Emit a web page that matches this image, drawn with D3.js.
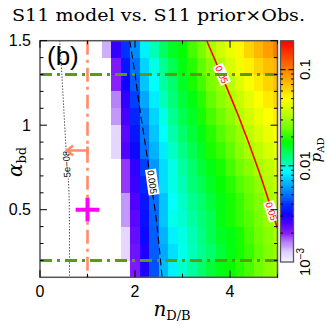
<!DOCTYPE html>
<html><head><meta charset="utf-8">
<script src="https://cdn.jsdelivr.net/npm/d3@7"></script>
<style>body{margin:0;background:#fff}svg{display:block}</style>
</head><body>
<script>
// ---------- data ----------
const titleText = "S11 model vs. S11 prior\u00d7Obs.";
const nCenters = [1.4,1.6,1.8,2.0,2.2,2.4,2.6,2.8,3.0,3.2,3.4,3.6,3.8,4.0,4.2,4.4,4.6,4.8,5.0];
const alphaCenters = [1.45,1.35,1.25,1.15,1.05,0.95,0.85,0.75,0.65,0.55,0.45,0.35,0.25,0.15];
const pAD = [
 [0.0014,0.0028,0.0040,0.0056,0.0085,0.0107,0.0135,0.016,0.018,0.022,0.026,0.032,0.038,0.045,0.052,0.063,0.074,0.085,0.10],
 [null,0.0021,0.0035,0.0050,0.0076,0.0095,0.0117,0.014,0.017,0.020,0.024,0.028,0.033,0.040,0.047,0.054,0.063,0.071,0.076],
 [null,0.0020,0.0032,0.0047,0.0071,0.0089,0.0112,0.013,0.016,0.019,0.022,0.026,0.030,0.035,0.042,0.048,0.056,0.063,0.071],
 [null,0.0016,0.0028,0.0042,0.0063,0.0083,0.0105,0.0126,0.015,0.017,0.020,0.024,0.028,0.032,0.037,0.043,0.050,0.056,0.063],
 [null,0.0015,0.0026,0.0038,0.0056,0.0076,0.0095,0.0117,0.014,0.016,0.019,0.022,0.025,0.029,0.034,0.039,0.045,0.050,0.056],
 [null,0.0012,0.0024,0.0035,0.0052,0.0071,0.0089,0.011,0.013,0.015,0.017,0.020,0.023,0.026,0.030,0.035,0.040,0.045,0.050],
 [null,0.0012,0.0025,0.0033,0.0050,0.0066,0.0083,0.0102,0.012,0.014,0.016,0.019,0.021,0.024,0.028,0.032,0.035,0.040,0.045],
 [null,null,0.0019,0.0028,0.0042,0.0059,0.0079,0.0095,0.0112,0.013,0.015,0.017,0.019,0.022,0.025,0.028,0.032,0.035,0.040],
 [null,null,0.0019,0.0027,0.0038,0.0056,0.0079,0.0095,0.0107,0.0126,0.014,0.016,0.018,0.020,0.023,0.025,0.029,0.033,0.037],
 [null,null,0.0015,0.0025,0.0035,0.0050,0.0071,0.0089,0.0102,0.0117,0.013,0.015,0.017,0.019,0.021,0.024,0.027,0.031,0.035],
 [null,null,0.0015,0.0024,0.0034,0.0048,0.0071,0.0093,0.010,0.0112,0.0126,0.014,0.017,0.019,0.021,0.023,0.026,0.030,0.036],
 [null,null,0.0012,0.0023,0.0033,0.0047,0.0066,0.0085,0.0095,0.0107,0.012,0.014,0.016,0.017,0.019,0.022,0.025,0.028,0.032],
 [null,null,0.0012,0.0022,0.0030,0.0047,0.0063,0.0079,0.0093,0.0105,0.0117,0.013,0.015,0.017,0.019,0.021,0.024,0.027,0.030],
 [null,null,null,0.0021,0.0030,0.0045,0.0068,0.0085,0.010,0.0112,0.013,0.015,0.017,0.018,0.020,0.022,0.025,0.028,0.030]
];
const cellWidthN = 0.2, cellHeightAlpha = 0.1;
const xDomain = [0,5], yDomain = [0.1,1.5], cbDomain = [0.001,0.2];
const xMajorTicks = [0,2,4], xMinorTicks = [1,3,5];
const yMajorTicks = [0.5,1.0,1.5];
const yMinorTicks = [0.2,0.3,0.4,0.6,0.7,0.8,0.9,1.1,1.2,1.3,1.4];
const cbMajorTicks = [0.01,0.1];
const cbMinorTicks = [0.002,0.003,0.004,0.005,0.006,0.007,0.008,0.009,0.02,0.03,0.04,0.05,0.06,0.07,0.08,0.09];
const cbLabels = [{v:0.1,t:"0.1"},{v:0.01,t:"0.01"},{v:0.001,t:"10",sup:"\u22123"}];
const alphaLimits = [0.2,1.3];
const nObs = 1.0;
const upperLimit = {alpha:0.85, nFrom:1.0, nTo:0.57};
const crossPoint = {n:1.0, alpha:0.5, dn:0.25, dalpha:0.07};
const contour5e8 = [[0.415,1.5],[0.46,1.3],[0.5,1.1],[0.54,0.9],[0.58,0.75],[0.61,0.6],[0.62,0.4],[0.62,0.1]];
const contour005 = [[1.89,1.5],[2.0,1.3],[2.1,1.1],[2.22,0.88],[2.33,0.67],[2.44,0.46],[2.52,0.25],[2.57,0.1]];
const contour05 = [[3.51,1.5],[3.83,1.29],[4.17,1.06],[4.6,0.735],[4.81,0.557],[4.93,0.45],[5.0,0.39]];
const contourLabels = [
  {t:"5e\u221208", n:0.56, a:0.77, ang:-92, col:"#000"},
  {t:"0.005", n:2.36, a:0.664, ang:82, col:"#000"},
  {t:"0.05", n:3.825, a:1.30, ang:66, col:"#ff0000"},
  {t:"0.05", n:4.87, a:0.49, ang:72, col:"#ff0000"}
];

// ---------- drawing ----------
const W = 327, H = 330;
const svg = d3.select("body").append("svg").attr("width",W).attr("height",H);
const x = d3.scaleLinear().domain(xDomain).range([40,277.5]);
const y = d3.scaleLinear().domain(yDomain).range([277.3,40.7]);
const cb = d3.scaleLog().domain(cbDomain).range([262,40.7]);

const stopsLog = [-3,-2.9,-2.8,-2.7,-2.6,-2.5,-2.4,-2.3,-2.2,-2.1,-2.05,-1.95,-1.85,-1.75,-1.6,-1.45,-1.3,-1.15,-1.0,-0.85,-0.7];
const stopsCol = ['#f8f4ff','#e0d0ff','#b888f8','#8a20ff','#5000ff','#1000ff','#0030ff','#0070ff','#00a8ff','#00e0ff','#00ffff','#00ffa0','#00ff50','#00ff00','#70ff00','#c0ff00','#ffff00','#ffc000','#ff8000','#ff4000','#ff0000'];
const cmapLog = d3.scaleLinear().domain(stopsLog).range(stopsCol).interpolate(d3.interpolateRgb).clamp(true);
const color = v => cmapLog(Math.log10(v));

svg.append("defs").append("clipPath").attr("id","clip")
  .append("rect").attr("x",x(0)).attr("y",y(1.5)).attr("width",x(5)-x(0)).attr("height",y(0.1)-y(1.5));

const plot = svg.append("g").attr("clip-path","url(#clip)");
const cells = [];
pAD.forEach((row,i)=>row.forEach((v,j)=>{ if(v!==null) cells.push({n:nCenters[j],a:alphaCenters[i],v}); }));
plot.selectAll("rect.cell").data(cells).join("rect").attr("class","cell")
  .attr("x",d=>x(d.n-cellWidthN/2)).attr("y",d=>y(d.a+cellHeightAlpha/2))
  .attr("width",d=>x(d.n+cellWidthN/2)-x(d.n-cellWidthN/2)+0.4)
  .attr("height",d=>y(d.a-cellHeightAlpha/2)-y(d.a+cellHeightAlpha/2)+0.4)
  .attr("fill",d=>color(d.v)).attr("shape-rendering","crispEdges");

const line = d3.line().x(d=>x(d[0])).y(d=>y(d[1])).curve(d3.curveCatmullRom);
plot.append("path").attr("d",line(contour5e8)).attr("fill","none").attr("stroke","#000").attr("stroke-width",1).attr("stroke-dasharray","1,2");
plot.append("path").attr("d",line(contour005)).attr("fill","none").attr("stroke","#000").attr("stroke-width",1.1).attr("stroke-dasharray","7,4");
plot.append("path").attr("d",line(contour05)).attr("fill","none").attr("stroke","#ff0000").attr("stroke-width",1.6);

// contour labels
contourLabels.forEach(l=>{
  const g = plot.append("g").attr("transform",`translate(${x(l.n)},${y(l.a)}) rotate(${l.ang})`);
  const t = g.append("text").text(l.t).attr("font-family","Liberation Sans, Arial, sans-serif").attr("font-size",9.5)
    .attr("fill",l.col).attr("text-anchor","middle").attr("dy","0.35em");
  const bb = t.node().getBBox();
  g.insert("rect","text").attr("x",bb.x-1).attr("y",bb.y).attr("width",bb.width+2).attr("height",bb.height).attr("fill","#fff");
});

// green alpha limit lines
alphaLimits.forEach(a=>{
  plot.append("line").attr("x1",x(0)).attr("x2",x(5)).attr("y1",y(a)).attr("y2",y(a))
    .attr("stroke","#5a9b12").attr("stroke-width",3).attr("stroke-dasharray","12,5,3,5");
});
// orange vertical line
plot.append("line").attr("x1",x(nObs)).attr("x2",x(nObs)).attr("y1",y(1.5)).attr("y2",y(0.1))
  .attr("stroke","#ff8c69").attr("stroke-width",2.6).attr("stroke-dasharray","14,5,3,5");
// upper-limit arrow
const ul = plot.append("g").attr("stroke","#ff8c69").attr("stroke-width",2.6).attr("fill","none");
ul.append("line").attr("x1",x(upperLimit.nFrom)).attr("x2",x(upperLimit.nTo)).attr("y1",y(upperLimit.alpha)).attr("y2",y(upperLimit.alpha));
ul.append("line").attr("x1",x(upperLimit.nFrom)).attr("x2",x(upperLimit.nFrom)).attr("y1",y(upperLimit.alpha)-4).attr("y2",y(upperLimit.alpha)+4);
ul.append("path").attr("d",`M${x(upperLimit.nTo)+6},${y(upperLimit.alpha)-5}L${x(upperLimit.nTo)},${y(upperLimit.alpha)}L${x(upperLimit.nTo)+6},${y(upperLimit.alpha)+5}`);
// magenta cross
const cr = plot.append("g").attr("stroke","#ff00ff").attr("stroke-width",4);
cr.append("line").attr("x1",x(crossPoint.n-crossPoint.dn)).attr("x2",x(crossPoint.n+crossPoint.dn)).attr("y1",y(crossPoint.alpha)).attr("y2",y(crossPoint.alpha));
cr.append("line").attr("x1",x(crossPoint.n)).attr("x2",x(crossPoint.n)).attr("y1",y(crossPoint.alpha-crossPoint.dalpha)).attr("y2",y(crossPoint.alpha+crossPoint.dalpha));

// frame & ticks
const axCol = "#555";
svg.append("rect").attr("x",x(0)).attr("y",y(1.5)).attr("width",x(5)-x(0)).attr("height",y(0.1)-y(1.5))
  .attr("fill","none").attr("stroke",axCol).attr("stroke-width",1.5);
const tk = svg.append("g").attr("stroke","#000").attr("stroke-width",1);
xMajorTicks.forEach(v=>{ tk.append("line").attr("x1",x(v)).attr("x2",x(v)).attr("y1",y(0.1)).attr("y2",y(0.1)-7);
  tk.append("line").attr("x1",x(v)).attr("x2",x(v)).attr("y1",y(1.5)).attr("y2",y(1.5)+7); });
xMinorTicks.forEach(v=>{ tk.append("line").attr("x1",x(v)).attr("x2",x(v)).attr("y1",y(0.1)).attr("y2",y(0.1)-3.5);
  tk.append("line").attr("x1",x(v)).attr("x2",x(v)).attr("y1",y(1.5)).attr("y2",y(1.5)+3.5); });
yMajorTicks.forEach(v=>{ tk.append("line").attr("x1",x(0)).attr("x2",x(0)+7).attr("y1",y(v)).attr("y2",y(v));
  tk.append("line").attr("x1",x(5)).attr("x2",x(5)-7).attr("y1",y(v)).attr("y2",y(v)); });
yMinorTicks.forEach(v=>{ tk.append("line").attr("x1",x(0)).attr("x2",x(0)+3.5).attr("y1",y(v)).attr("y2",y(v));
  tk.append("line").attr("x1",x(5)).attr("x2",x(5)-3.5).attr("y1",y(v)).attr("y2",y(v)); });

const sans = "Liberation Sans, Arial, Helvetica, sans-serif";
const serif = "DejaVu Serif, serif";
xMajorTicks.forEach(v=>svg.append("text").attr("x",x(v)).attr("y",297).attr("text-anchor","middle")
  .attr("font-family",sans).attr("font-size",16).text(d3.format("")(v)));
yMajorTicks.forEach(v=>svg.append("text").attr("x",31).attr("y",y(v)).attr("dy","0.35em").attr("text-anchor","end")
  .attr("font-family",sans).attr("font-size",16).text(v===1?"1":String(v)));

// axis titles
const xt = svg.append("text").attr("x",172).attr("y",316).attr("text-anchor","middle").attr("font-family",serif);
xt.append("tspan").attr("font-style","italic").attr("font-size",20).text("n");
xt.append("tspan").attr("font-size",13).attr("dy",4).text("D/B");
const yt = svg.append("text").attr("transform","translate(22,162) rotate(-90)").attr("text-anchor","middle").attr("font-family",serif);
yt.append("tspan").attr("font-style","italic").attr("font-size",20).text("\u03b1");
yt.append("tspan").attr("font-size",13).attr("dy",4).text("bd");

// title
svg.append("text").attr("x",158.5).attr("y",21).attr("text-anchor","middle").attr("font-family",serif)
  .attr("font-size",16).attr("textLength",293).attr("lengthAdjust","spacingAndGlyphs").text(titleText);

// panel label
svg.append("text").attr("x",47).attr("y",65).attr("font-family",sans).attr("font-size",26).text("(b)");

// colorbar
const cbX = 280.5, cbW = 13;
const cbg = svg.append("g");
const nSteps = 240;
const lo = Math.log10(cbDomain[0]), hi = Math.log10(cbDomain[1]);
d3.range(nSteps).forEach(i=>{
  const v0 = Math.pow(10, lo + (hi-lo)*i/nSteps), v1 = Math.pow(10, lo + (hi-lo)*(i+1)/nSteps);
  cbg.append("rect").attr("x",cbX).attr("width",cbW).attr("y",cb(v1)).attr("height",cb(v0)-cb(v1)+0.3)
    .attr("fill",color(Math.sqrt(v0*v1))).attr("shape-rendering","crispEdges");
});
cbg.append("rect").attr("x",cbX).attr("y",cb(cbDomain[1])).attr("width",cbW).attr("height",cb(cbDomain[0])-cb(cbDomain[1]))
  .attr("fill","none").attr("stroke",axCol).attr("stroke-width",1.3);
cbMajorTicks.forEach(v=>{ cbg.append("line").attr("x1",cbX).attr("x2",cbX+5).attr("y1",cb(v)).attr("y2",cb(v)).attr("stroke","#000");
  cbg.append("line").attr("x1",cbX+cbW).attr("x2",cbX+cbW-5).attr("y1",cb(v)).attr("y2",cb(v)).attr("stroke","#000"); });
cbMinorTicks.forEach(v=>{ cbg.append("line").attr("x1",cbX).attr("x2",cbX+2.5).attr("y1",cb(v)).attr("y2",cb(v)).attr("stroke","#000");
  cbg.append("line").attr("x1",cbX+cbW).attr("x2",cbX+cbW-2.5).attr("y1",cb(v)).attr("y2",cb(v)).attr("stroke","#000"); });
cbLabels.forEach(l=>{
  const t = svg.append("text").attr("transform",`translate(310,${cb(l.v)}) rotate(-90)`).attr("text-anchor","middle")
    .attr("font-family",sans).attr("font-size",15);
  t.append("tspan").text(l.t);
  if(l.sup) t.append("tspan").attr("font-size",10).attr("dy",-6).text(l.sup);
});
const pt = svg.append("text").attr("transform","translate(321,150) rotate(-90)").attr("text-anchor","middle").attr("font-family",serif);
pt.append("tspan").attr("font-style","italic").attr("font-size",15).text("p");
pt.append("tspan").attr("font-size",10).attr("dy",3).text("AD");
</script>
</body></html>
